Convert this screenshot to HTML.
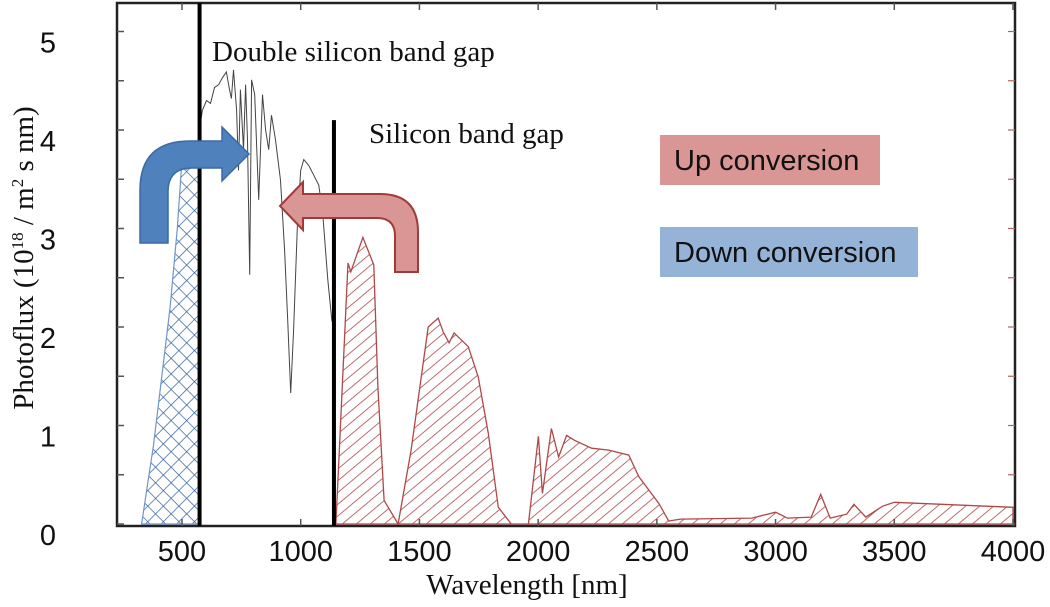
<!DOCTYPE html>
<html><head><meta charset="utf-8"><style>
html,body{margin:0;padding:0;background:#fff;}
svg{display:block;}
.tk{font-family:"Liberation Sans",sans-serif;font-size:29px;fill:#111;}
.sf{font-family:"Liberation Serif",serif;fill:#111;}
</style></head><body>
<svg id="chart" width="1050" height="607" viewBox="0 0 1050 607">
<defs>
<pattern id="hatchRed" width="9" height="9" patternUnits="userSpaceOnUse" patternTransform="rotate(-40)">
<line x1="0" y1="0" x2="9" y2="0" stroke="#b04848" stroke-width="1.6"/>
</pattern>
<pattern id="hatchBlue" width="11" height="11" patternUnits="userSpaceOnUse" patternTransform="rotate(45)">
<line x1="0" y1="0" x2="11" y2="0" stroke="#2f5e9e" stroke-width="1.4"/>
<line x1="0" y1="0" x2="0" y2="11" stroke="#2f5e9e" stroke-width="1.4"/>
</pattern>
</defs>
<g id="plot"></g>
</svg>
<script>
const xTicks=[500,1000,1500,2000,2500,3000,3500,4000];
const yTicks=[0,1,2,3,4,5];
const blueW=[330,380,420,450,480,500,520,545,574];
const blueV=[0,0.8,1.6,2.2,3.0,3.7,3.6,3.65,3.7];
const grayW=[573,586,603,620,637,654,670,687,700,708,717,730,738,746,759,768,776,785,793,806,823,839,852,865,877,894,915,932,945,958,970,987,1000,1013,1034,1055,1076,1093,1114,1131,1144];
const grayV=[4.0,4.2,4.3,4.27,4.43,4.46,4.53,4.59,4.41,4.32,4.61,4.2,3.59,4.41,3.8,4.46,3.9,2.53,4.51,4.36,3.29,4.36,4.0,3.8,4.15,3.9,3.49,2.78,2.07,1.33,1.97,3.09,3.59,3.7,3.64,3.54,3.44,3.14,2.48,2.07,1.97];
const redW=[1148,1199,1211,1262,1308,1325,1351,1410,1465,1537,1579,1600,1625,1646,1706,1748,1790,1832,1887,1959,2001,2018,2056,2086,2120,2153,2225,2297,2382,2424,2508,2550,2600,2900,3000,3050,3150,3190,3230,3300,3330,3380,3450,3500,3700,4000];
const redV=[0,2.65,2.56,2.91,2.63,1.39,0.24,0,0.75,2.0,2.09,1.95,1.84,1.94,1.8,1.49,0.92,0.17,0,0,0.89,0.31,0.97,0.68,0.9,0.85,0.77,0.75,0.70,0.48,0.21,0.03,0.05,0.06,0.12,0.06,0.07,0.3,0.06,0.1,0.2,0.07,0.18,0.22,0.2,0.17];
const bandGaps=[574,1140];
const bandTop=[5.3,4.1];

const X0=117,X1=1015,Y0=3,Y1=526;
function xs(w){return 182+(w-500)*(1013-182)/3500;}
function ys(v){return 524-v*98.5;}
const NS="http://www.w3.org/2000/svg";
const g=document.getElementById('plot');
function mk(t,a,p){const e=document.createElementNS(NS,t);for(const k in a)e.setAttribute(k,a[k]);(p||g).appendChild(e);return e;}
function areaPath(W,V){let d='M'+xs(W[0])+','+ys(0);for(let i=0;i<W.length;i++)d+=' L'+xs(W[i]).toFixed(1)+','+ys(V[i]).toFixed(1);d+=' L'+xs(W[W.length-1])+','+ys(0)+' Z';return d;}

let b=mk('path',{d:areaPath(blueW,blueV),fill:'url(#hatchBlue)',stroke:'#6f95c8','stroke-width':1.2});


let r=mk('path',{d:areaPath(redW,redV),fill:'url(#hatchRed)',stroke:'#b04848','stroke-width':1.3});


let gd='';for(let i=0;i<grayW.length;i++)gd+=(i?' L':'M')+xs(grayW[i]).toFixed(1)+','+ys(grayV[i]).toFixed(1);
let gl=mk('path',{d:gd,fill:'none',stroke:'#444','stroke-width':1});



let fr=mk('rect',{x:X0,y:Y0,width:X1-X0,height:Y1-Y0,fill:'none',stroke:'#222','stroke-width':2.5});


for(let v=0;v<=5;v+=0.5){
 const t=mk('line',{x1:X0,x2:X0+7,y1:ys(v),y2:ys(v),stroke:'#555','stroke-width':1.5});
 
 
 const t2=mk('line',{x1:X1-7,x2:X1,y1:ys(v),y2:ys(v),stroke:'#a66','stroke-width':1.2});
 
 
}
yTicks.forEach(v=>{
 const t=mk('text',{x:48,y:ys(v)+21,'text-anchor':'middle',class:'tk'});t.textContent=v;
 
 
});
xTicks.forEach(w=>{
 const l=mk('line',{x1:xs(w),x2:xs(w),y1:Y1,y2:Y1-7,stroke:'#555','stroke-width':1.5});
 
 
 const l2=mk('line',{x1:xs(w),x2:xs(w),y1:Y0,y2:Y0+7,stroke:'#555','stroke-width':1.5});
 
 
 const t=mk('text',{x:xs(w),y:561,'text-anchor':'middle',class:'tk'});t.textContent=w;
 
 
});
bandGaps.forEach((w,i)=>{
 const l=mk('line',{x1:xs(w),x2:xs(w),y1:Math.max(Y0,ys(bandTop[i])),y2:Y1,stroke:'#000','stroke-width':4});
 
 
});
</script>
<script>
const svg=document.getElementById('chart');
const NS2="http://www.w3.org/2000/svg";
function add(tag,attrs,text){const e=document.createElementNS(NS2,tag);for(const k in attrs)e.setAttribute(k,attrs[k]);if(text)e.textContent=text;svg.appendChild(e);return e;}
let a1=add('path',{d:'M140,243 L140,190 Q140,141 190,141 L222,141 L222,127 L249,154 L222,181 L222,168 L192,168 Q168,168 168,192 L168,243 Z',fill:'#4f81bd',stroke:'#3a6aa5','stroke-width':1.5});


let a2=add('path',{d:'M280,206 L303,182 L303,194 L380,194 Q418,194 418,232 L418,272 L395,272 L395,236 Q395,218 377,218 L303,218 L303,230 Z',fill:'#d99694',stroke:'#a33a3a','stroke-width':2});


let bx1=add('rect',{x:660,y:135,width:220,height:50,fill:'#d99694'});


let t1=add('text',{x:674,y:170,style:'font-family:"Liberation Sans",sans-serif;font-size:29px;fill:#111'},'Up conversion');


let bx2=add('rect',{x:660,y:227,width:258,height:50,fill:'#95b3d7'});


let t2=add('text',{x:674,y:262,style:'font-family:"Liberation Sans",sans-serif;font-size:29px;fill:#111'},'Down conversion');


let t3=add('text',{x:212,y:61,class:'sf','font-size':'29'},'Double silicon band gap');


let t4=add('text',{x:369,y:143,class:'sf','font-size':'29'},'Silicon band gap');


let t5=add('text',{x:527,y:594,'text-anchor':'middle',class:'sf','font-size':'29'},'Wavelength [nm]');


let t6=add('text',{x:0,y:0,transform:'translate(33,258) rotate(-90)','text-anchor':'middle',class:'sf','font-size':'29'});
t6.innerHTML='Photoflux (10<tspan dy="-10" font-size="17">18</tspan><tspan dy="10"> / m</tspan><tspan dy="-10" font-size="17">2</tspan><tspan dy="10"> s nm)</tspan>';


</script>
</body></html>
